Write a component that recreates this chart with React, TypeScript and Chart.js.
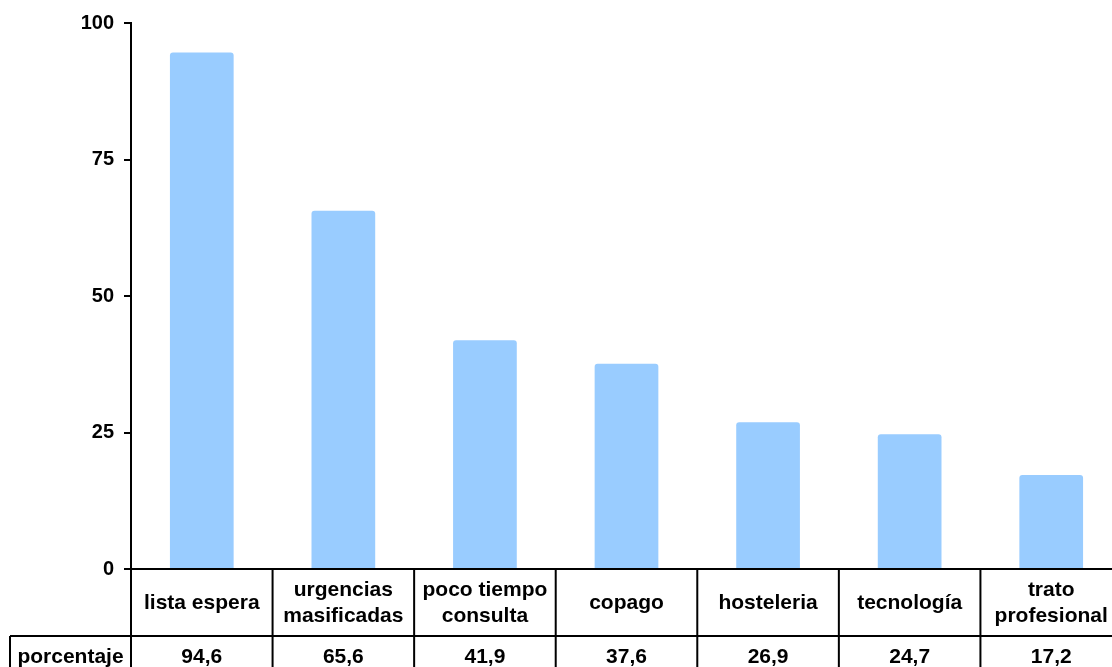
import React, { useEffect, useRef } from "react";
import { Chart, registerables } from "chart.js";

Chart.register(...registerables);

const categories: string[][] = [
  ["lista espera"],
  ["urgencias", "masificadas"],
  ["poco tiempo", "consulta"],
  ["copago"],
  ["hosteleria"],
  ["tecnología"],
  ["trato", "profesional"],
];
const values: number[] = [94.6, 65.6, 41.9, 37.6, 26.9, 24.7, 17.2];
const valueLabels: string[] = ["94,6", "65,6", "41,9", "37,6", "26,9", "24,7", "17,2"];
const rowTitle = "porcentaje";
const yTicks: number[] = [0, 25, 50, 75, 100];

const FONT = "'Liberation Sans', Arial, sans-serif";

const tablePlugin = {
  id: "dataTable",
  afterDraw(chart: any) {
    const ctx = chart.ctx as CanvasRenderingContext2D;
    const a = chart.chartArea;
    const n = categories.length;
    const w = (a.right - a.left) / n;
    const r1Top = a.bottom;
    const r1Bot = a.bottom + 67;
    const r2Bot = r1Bot + 42;
    ctx.save();
    ctx.strokeStyle = "#000";
    ctx.lineWidth = 2;
    ctx.beginPath();
    ctx.moveTo(a.left - 7, r1Top);
    ctx.lineTo(a.right, r1Top);
    ctx.moveTo(10, r1Bot);
    ctx.lineTo(a.right, r1Bot);
    ctx.moveTo(10, r2Bot);
    ctx.lineTo(a.right, r2Bot);
    for (let i = 0; i <= n; i++) {
      const x = a.left + i * w;
      ctx.moveTo(x, r1Top);
      ctx.lineTo(x, r2Bot);
    }
    ctx.moveTo(10, r1Bot);
    ctx.lineTo(10, r2Bot);
    ctx.stroke();

    ctx.fillStyle = "#000";
    ctx.font = `bold 21px ${FONT}`;
    ctx.textAlign = "center";
    ctx.textBaseline = "middle";
    const lh = 26;
    for (let i = 0; i < n; i++) {
      const cx = chart.scales.x.getPixelForValue(i);
      const lines = categories[i];
      const cy = (r1Top + r1Bot) / 2 + 1;
      lines.forEach((ln, k) => {
        ctx.fillText(ln, cx, cy + (k - (lines.length - 1) / 2) * lh);
      });
      ctx.fillText(valueLabels[i], cx, (r1Bot + r2Bot) / 2);
    }
    ctx.fillText(rowTitle, (10 + a.left) / 2, (r1Bot + r2Bot) / 2);
    ctx.restore();
  },
};

export default function App() {
  const ref = useRef<HTMLCanvasElement | null>(null);
  useEffect(() => {
    if (!ref.current) return;
    const chart = new Chart(ref.current, {
      type: "bar",
      data: {
        labels: categories.map((c) => c.join(" ")),
        datasets: [
          {
            data: values,
            backgroundColor: "#99CCFF",
            borderWidth: 0,
            borderRadius: { topLeft: 3, topRight: 3, bottomLeft: 0, bottomRight: 0 },
            borderSkipped: "bottom",
            categoryPercentage: 1,
            barPercentage: 0.45,
          },
        ],
      },
      options: {
        responsive: false,
        animation: false,
        devicePixelRatio: 1,
        layout: { padding: { left: 0, top: 23, right: 8, bottom: 131 } },
        plugins: { legend: { display: false }, tooltip: { enabled: false } },
        scales: {
          x: { display: false, offset: true },
          y: {
            min: 0,
            max: 100,
            afterFit: (s: any) => {
              s.width = 131;
            },
            afterBuildTicks: (s: any) => {
              s.ticks = yTicks.map((v) => ({ value: v }));
            },
            ticks: {
              color: "#000",
              padding: 10,
              font: { family: FONT, size: 20, weight: "bold" },
            },
            grid: {
              drawOnChartArea: false,
              drawTicks: true,
              tickLength: 7,
              color: "#000",
              lineWidth: 2,
            },
            border: { color: "#000", width: 2 },
          },
        },
      },
      plugins: [tablePlugin],
    });
    return () => chart.destroy();
  }, []);
  return (
    <div style={{ position: "fixed", left: 0, top: 0, width: 1112, height: 667, overflow: "hidden", background: "#fff" }}>
      <canvas ref={ref} width={1130} height={700} style={{ display: "block" }} />
    </div>
  );
}
